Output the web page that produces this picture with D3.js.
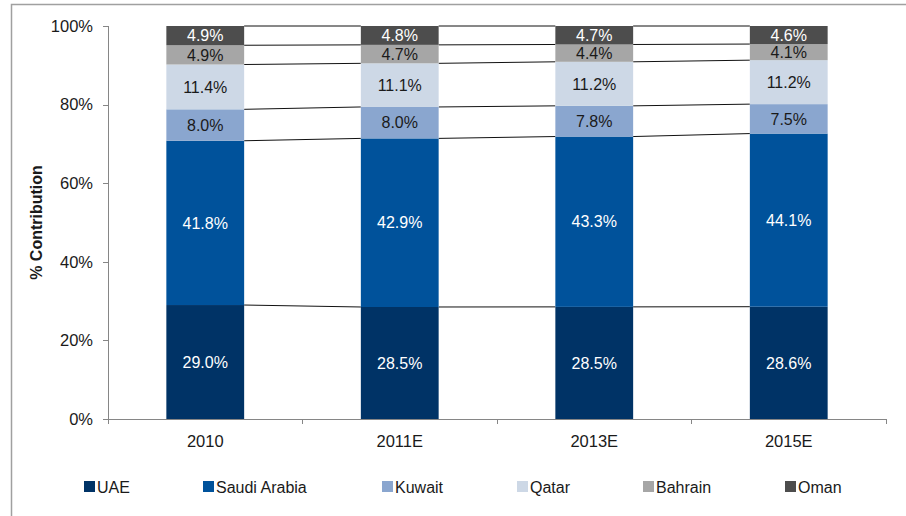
<!DOCTYPE html>
<html>
<head>
<meta charset="utf-8">
<title>% Contribution</title>
<script src="https://cdn.jsdelivr.net/npm/d3@7"></script>
<style>
  body { margin: 0; background: #fff; }
  svg { display: block; font-family: "Liberation Sans", Arial, sans-serif; }
  .axis path, .axis line { stroke: #868686; shape-rendering: crispEdges; }
</style>
</head>
<body>
<svg id="chart" width="906" height="516"></svg>
<script>
// data (%)
const categories = ["2010", "2011E", "2013E", "2015E"];
const seriesNames = ["UAE", "Saudi Arabia", "Kuwait", "Qatar", "Bahrain", "Oman"];
const uae = [29.0, 28.5, 28.5, 28.6];
const saudi = [41.8, 42.9, 43.3, 44.1];
const kuwait = [8.0, 8.0, 7.8, 7.5];
const qatar = [11.4, 11.1, 11.2, 11.2];
const bahrain = [4.9, 4.7, 4.4, 4.1];
const oman = [4.9, 4.8, 4.7, 4.6];
const yTicks = [0, 20, 40, 60, 80, 100];

const colors = ["#003366", "#00529b", "#8aa6cf", "#cdd8e6", "#a6a6a6", "#4d4d4d"];
const labelColors = ["#fff", "#fff", "#1a1a1a", "#1a1a1a", "#1a1a1a", "#fff"];

const allSeries = [uae, saudi, kuwait, qatar, bahrain, oman];

// build rows for d3.stack, normalised to 100% like the original chart
const rows = categories.map(function(c, i) {
  const row = { cat: c };
  let total = 0;
  allSeries.forEach(function(s) { total += s[i]; });
  seriesNames.forEach(function(n, k) {
    row[n] = allSeries[k][i] / total * 100;
    row[n + "_raw"] = allSeries[k][i];
  });
  return row;
});

const stacked = d3.stack().keys(seriesNames)(rows);

const svg = d3.select("#chart");

// outer frame
svg.append("rect")
  .attr("x", 11.5).attr("y", 4.5)
  .attr("width", 1000).attr("height", 1000)
  .attr("fill", "none").attr("stroke", "#a0a0a0").attr("stroke-width", 1.5);

const plotLeft = 108, plotRight = 886, plotTop = 26, plotBottom = 419;

const x = d3.scaleBand().domain(categories).range([plotLeft, plotRight]).padding(0);
const y = d3.scaleLinear().domain([0, 100]).range([plotBottom, plotTop]);
const barW = x.bandwidth() * 0.4;
const barX = function(c) { return x(c) + (x.bandwidth() - barW) / 2; };

// y axis
const yAxis = svg.append("g")
  .attr("class", "axis")
  .attr("transform", "translate(" + plotLeft + ",0)")
  .call(d3.axisLeft(y).tickValues(yTicks).tickSize(5).tickPadding(10)
    .tickFormat(function(d) { return d + "%"; }));
yAxis.select(".domain").attr("d", "M0," + y(100) + "V" + y(0));
yAxis.selectAll("text").attr("font-size", 16.5).attr("fill", "#1a1a1a")
  .attr("font-family", "Liberation Sans, Arial, sans-serif");

// x axis with ticks at category boundaries
const xAxis = svg.append("g")
  .attr("class", "axis")
  .attr("transform", "translate(0," + plotBottom + ")");
xAxis.append("line").attr("x1", plotLeft).attr("x2", plotRight).attr("y1", 0).attr("y2", 0);
const bounds = categories.map(function(c) { return x(c); }).concat([plotRight]);
xAxis.selectAll(".bt").data(bounds).join("line")
  .attr("x1", function(d) { return d; }).attr("x2", function(d) { return d; })
  .attr("y1", 0).attr("y2", 5);
xAxis.selectAll(".cl").data(categories).join("text")
  .attr("x", function(d) { return x(d) + x.bandwidth() / 2; })
  .attr("y", 28)
  .attr("text-anchor", "middle")
  .attr("font-size", 16.5)
  .attr("fill", "#1a1a1a")
  .text(function(d) { return d; });

// y axis title
svg.append("text")
  .attr("transform", "translate(42," + ((plotTop + plotBottom) / 2) + ") rotate(-90)")
  .attr("text-anchor", "middle")
  .attr("font-size", 16)
  .attr("font-weight", "bold")
  .attr("fill", "#1a1a1a")
  .text("% Contribution");

// connector lines between bars at every segment boundary
const levels = [];
stacked.forEach(function(layer) {
  for (let i = 0; i < categories.length - 1; i++) {
    levels.push({ x1: barX(categories[i]) + barW, x2: barX(categories[i + 1]), y1: y(layer[i][1]), y2: y(layer[i + 1][1]) });
  }
});
svg.append("g").selectAll("line").data(levels).join("line")
  .attr("x1", function(d) { return d.x1; }).attr("x2", function(d) { return d.x2; })
  .attr("y1", function(d) { return d.y1; }).attr("y2", function(d) { return d.y2; })
  .attr("stroke", "#111").attr("stroke-width", 1);

// bars
const layers = svg.append("g").selectAll("g").data(stacked).join("g")
  .attr("fill", function(d, i) { return colors[i]; });
layers.selectAll("rect").data(function(d) { return d; }).join("rect")
  .attr("x", function(d) { return barX(d.data.cat); })
  .attr("y", function(d) { return y(d[1]); })
  .attr("width", barW)
  .attr("height", function(d) { return y(d[0]) - y(d[1]); });

// segment labels
stacked.forEach(function(layer, k) {
  svg.append("g").selectAll("text").data(layer).join("text")
    .attr("x", function(d) { return barX(d.data.cat) + barW / 2; })
    .attr("y", function(d) { return (y(d[0]) + y(d[1])) / 2; })
    .attr("dy", "0.36em")
    .attr("text-anchor", "middle")
    .attr("font-size", 16)
    .attr("fill", labelColors[k])
    .text(function(d) { return d.data[layer.key + "_raw"].toFixed(1) + "%"; });
});

// legend
const legendX = [84, 203, 382, 517, 643, 785];
const legend = svg.append("g").selectAll("g").data(seriesNames).join("g")
  .attr("transform", function(d, i) { return "translate(" + legendX[i] + ",481)"; });
legend.append("rect").attr("width", 11).attr("height", 11)
  .attr("fill", function(d, i) { return colors[i]; });
legend.append("text").attr("x", 13).attr("y", 12)
  .attr("font-size", 16).attr("fill", "#1a1a1a")
  .text(function(d) { return d; });
</script>
</body>
</html>
